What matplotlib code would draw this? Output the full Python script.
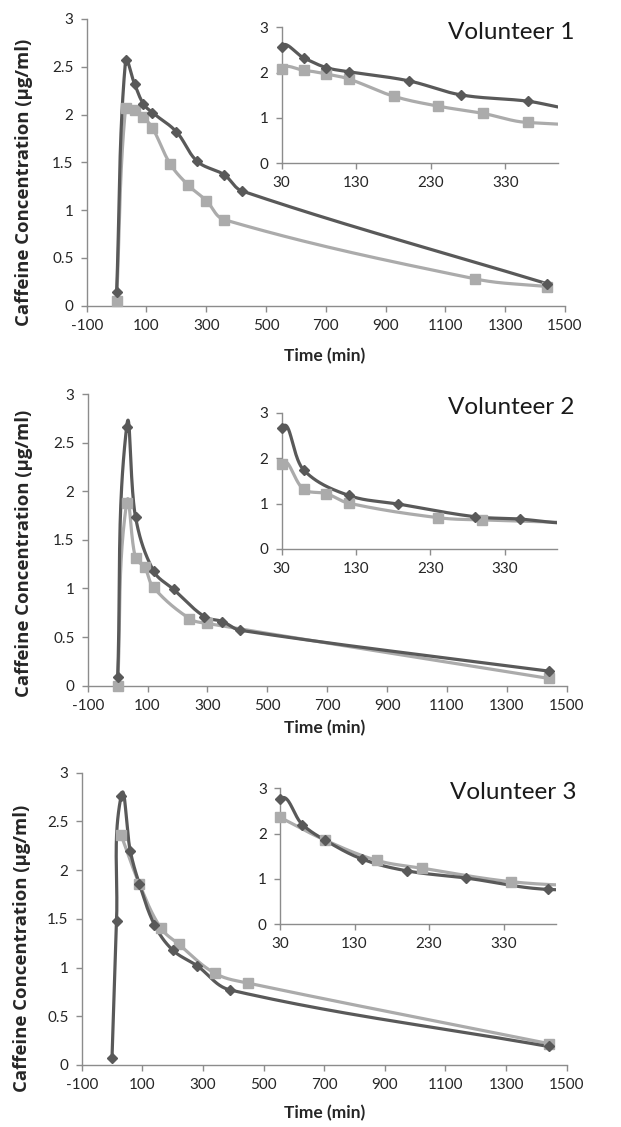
import numpy as np
import matplotlib
matplotlib.use("Agg")
import matplotlib.pyplot as plt

plt.rcParams['font.family'] = ['Lato', 'DejaVu Sans']
plt.rcParams['axes.unicode_minus'] = False

# ---------------- data ----------------
# Volunteer 1
v1_dark_t = [0, 30, 60, 90, 120, 200, 270, 360, 420, 1440]
v1_dark_c = [0.14, 2.57, 2.32, 2.11, 2.02, 1.82, 1.51, 1.37, 1.20, 0.23]
v1_light_t = [0, 30, 60, 90, 120, 180, 240, 300, 360, 1200, 1440]
v1_light_c = [0.05, 2.07, 2.05, 1.97, 1.86, 1.48, 1.26, 1.10, 0.90, 0.28, 0.20]
# Volunteer 2
v2_dark_t = [0, 30, 60, 120, 187, 290, 350, 410, 1440]
v2_dark_c = [0.09, 2.66, 1.73, 1.18, 0.99, 0.71, 0.66, 0.57, 0.15]
v2_light_t = [0, 30, 60, 90, 120, 240, 300, 1440]
v2_light_c = [0.0, 1.88, 1.31, 1.22, 1.01, 0.69, 0.64, 0.075]
# Volunteer 3
v3_dark_t = [0, 15, 30, 60, 90, 140, 200, 280, 390, 1440]
v3_dark_c = [0.075, 1.48, 2.76, 2.20, 1.86, 1.44, 1.18, 1.02, 0.77, 0.19]
v3_light_t = [30, 90, 160, 220, 340, 450, 1440]
v3_light_c = [2.36, 1.86, 1.41, 1.24, 0.94, 0.84, 0.22]

volunteers = ["Volunteer 1", "Volunteer 2", "Volunteer 3"]
main_xticks = list(range(-100, 1501, 200))
main_yticks = [0, 0.5, 1, 1.5, 2, 2.5, 3]
main_yticklabels = ["0", "0.5", "1", "1.5", "2", "2.5", "3"]
inset_xticks = [30, 130, 230, 330]
inset_yticks = [0, 1, 2, 3]
xlabel = "Time (min)"
ylabel = "Caffeine Concentration (\u00b5g/ml)"

DARK = '#595959'
LIGHT = '#ababab'
AXC = '#8c8c8c'
TXT = '#262626'

W, H = 621, 1127
fig = plt.figure(figsize=(W / 100, H / 100), dpi=100)


def px_axes(l, r, t, b):
    return fig.add_axes([l / W, 1 - b / H, (r - l) / W, (b - t) / H])


def unit(v):
    n = np.hypot(v[0], v[1])
    return v / n if n > 0 else v * 0


def smooth_plot(ax, x, y, color, marker, ms, lw=2.3, k=0.36, clip_line=False):
    # Excel-like smoothed line: cubic Bezier, tangents from neighbours,
    # control distance proportional to the segment length (pixel space)
    pts = ax.transData.transform(np.column_stack([x, y]))
    n = len(pts)
    out = []
    for i in range(n - 1):
        p0 = pts[i - 1] if i > 0 else pts[i]
        p1 = pts[i]
        p2 = pts[i + 1]
        p3 = pts[i + 2] if i + 2 < n else pts[i + 1]
        L = np.hypot(*(p2 - p1))
        c1 = p1 + unit(p2 - p0) * L * k
        c2 = p2 - unit(p3 - p1) * L * k
        tt = np.linspace(0, 1, 40)[:, None]
        seg = ((1 - tt) ** 3) * p1 + 3 * ((1 - tt) ** 2) * tt * c1 + 3 * (1 - tt) * tt ** 2 * c2 + tt ** 3 * p2
        out.append(seg if i == 0 else seg[1:])
    curve = ax.transData.inverted().transform(np.vstack(out))
    ax.plot(curve[:, 0], curve[:, 1], color=color, lw=lw, solid_capstyle='round',
            zorder=3, clip_on=clip_line)
    xlo, xhi = ax.get_xlim()
    mx = [a for a in x if xlo <= a <= xhi]
    my = [b for a, b in zip(x, y) if xlo <= a <= xhi]
    ax.plot(mx, my, linestyle='none', marker=marker, ms=ms, color=color, mec=color,
            zorder=4, clip_on=False)


def style(ax, fs=11):
    for s in ['top', 'right']:
        ax.spines[s].set_visible(False)
    for s in ['left', 'bottom']:
        ax.spines[s].set_color(AXC)
        ax.spines[s].set_linewidth(1.0)
    ax.tick_params(axis='both', direction='out', length=4, width=1.0, color=AXC,
                   labelsize=fs, labelcolor=TXT, pad=5.5)
    ax.patch.set_alpha(0)


mains = [
    (86.7, 565.0, 19.0, 305.7),
    (87.7, 566.7, 394.0, 685.7),
    (81.7, 566.7, 772.7, 1065.0),
]
insets = [
    (281.7, 557.7, 27.3, 163.3),
    (281.7, 556.7, 412.7, 549.0),
    (280.0, 555.7, 788.3, 924.3),
]
data = [
    (v1_dark_t, v1_dark_c, v1_light_t, v1_light_c),
    (v2_dark_t, v2_dark_c, v2_light_t, v2_light_c),
    (v3_dark_t, v3_dark_c, v3_light_t, v3_light_c),
]
title_pos = [(575, 39), (575, 414), (577, 799)]
ylab_pos = [(24, 182), (24, 553), (22, 948)]
xlab_pos = [(325, 356), (325, 728), (325, 1113)]

for k in range(3):
    dt, dc, lt, lc = data[k]
    ax = px_axes(*mains[k])
    ax.set_xlim(-100, 1500)
    ax.set_ylim(0, 3)
    style(ax)
    ax.set_xticks(main_xticks)
    ax.set_yticks(main_yticks)
    ax.set_yticklabels(main_yticklabels)
    smooth_plot(ax, lt, lc, LIGHT, 's', 6.5)
    smooth_plot(ax, dt, dc, DARK, 'D', 5)

    ai = px_axes(*insets[k])
    ai.set_xlim(30, 400)
    ai.set_ylim(0, 3)
    style(ai)
    ai.set_xticks(inset_xticks)
    ai.set_yticks(inset_yticks)
    smooth_plot(ai, lt, lc, LIGHT, 's', 6.5, clip_line=True)
    smooth_plot(ai, dt, dc, DARK, 'D', 5, clip_line=True)

    tx, ty = title_pos[k]
    fig.text(tx / W, 1 - ty / H, volunteers[k], ha='right', va='baseline',
             fontsize=17.5, color='#1a1a1a')
    yx, yy = ylab_pos[k]
    fig.text(yx / W, 1 - yy / H, ylabel, rotation=90, ha='center', va='center',
             fontsize=13.3, fontweight='bold', color=TXT, family=['Open Sans', 'DejaVu Sans'])
    xx, xy = xlab_pos[k]
    fig.text(xx / W, 1 - xy / H, xlabel, ha='center', va='center',
             fontsize=12.5, fontweight='bold', color=TXT)

fig.savefig("out.png", dpi=100)
